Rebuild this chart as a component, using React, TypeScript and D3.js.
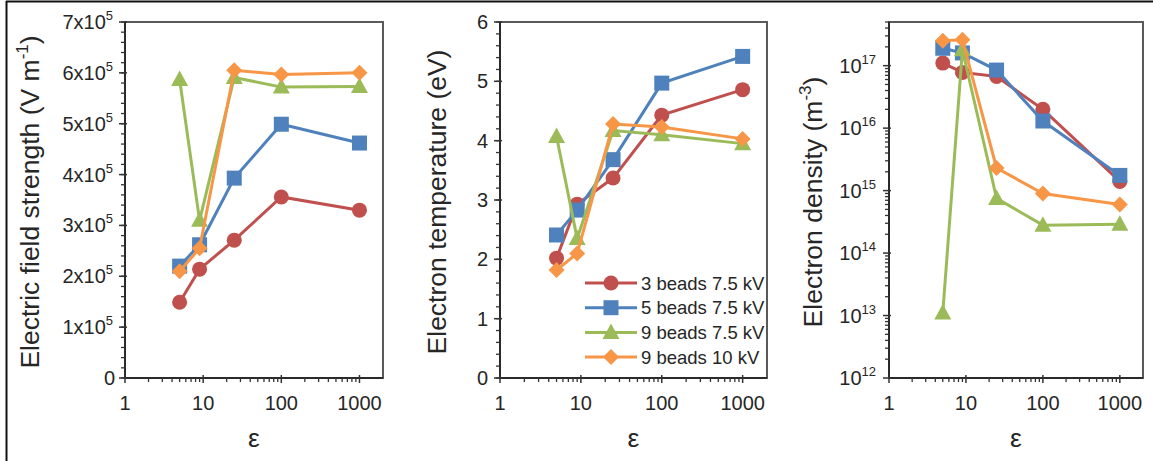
import React from "react";
import * as d3 from "d3";

const eps = [5, 9, 25, 100, 1000];
const seriesNames = ["3 beads 7.5 kV", "5 beads 7.5 kV", "9 beads 7.5 kV", "9 beads 10 kV"];
const seriesColors = ["#C0504D", "#4F81BD", "#9BBB59", "#F79646"];
const seriesShapes = ["circle", "square", "triangle", "diamond"];

const fieldRed = [1.49e5, 2.14e5, 2.71e5, 3.56e5, 3.30e5];
const fieldBlue = [2.2e5, 2.62e5, 3.93e5, 4.99e5, 4.62e5];
const fieldGreen = [5.87e5, 3.1e5, 5.91e5, 5.72e5, 5.73e5];
const fieldOrange = [2.1e5, 2.55e5, 6.05e5, 5.97e5, 6.0e5];

const tempRed = [2.02, 2.93, 3.37, 4.43, 4.86];
const tempBlue = [2.41, 2.83, 3.68, 4.97, 5.42];
const tempGreen = [4.07, 2.35, 4.17, 4.1, 3.95];
const tempOrange = [1.82, 2.1, 4.28, 4.23, 4.03];

const densRed = [1.1e17, 7.8e16, 6.7e16, 2.0e16, 1.4e15];
const densBlue = [1.9e17, 1.6e17, 8.5e16, 1.3e16, 1.75e15];
const densGreen = [1.1e13, 1.8e17, 7.5e14, 2.8e14, 2.9e14];
const densOrange = [2.5e17, 2.6e17, 2.3e15, 9.0e14, 6.0e14];

const xTicks = [1, 10, 100, 1000];
const fieldTicks = [0, 1, 2, 3, 4, 5, 6, 7];
const tempTicks = [0, 1, 2, 3, 4, 5, 6];
const densExps = [12, 13, 14, 15, 16, 17];

const FONT = "Liberation Sans, Arial, sans-serif";
const TOP = 22;
const BOTTOM = 378;
const TICKFS = 20;
const TITLEFS = 26.5;

function Marker({ shape, x, y, color }: { shape: string; x: number; y: number; color: string }) {
  if (shape === "circle") return <circle cx={x} cy={y} r={7.5} fill={color} />;
  if (shape === "square") return <rect x={x - 7.5} y={y - 7.5} width={15} height={15} fill={color} />;
  if (shape === "triangle")
    return <path d={`M${x},${y - 9} L${x + 8.5},${y + 6.5} L${x - 8.5},${y + 6.5} Z`} fill={color} />;
  return <path d={`M${x},${y - 8} L${x + 8},${y} L${x},${y + 8} L${x - 8},${y} Z`} fill={color} />;
}

type PanelProps = {
  left: number;
  right: number;
  yScale: any;
  series: number[][];
  yTickEls: React.ReactNode;
  title: React.ReactNode;
  titleX: number;
  legend?: boolean;
};

function Panel({ left, right, yScale, series, yTickEls, title, titleX, legend }: PanelProps) {
  const x = d3.scaleLog().domain([1, 2000]).range([left, right]);
  const minor: number[] = [];
  for (let dec = 1; dec <= 1000; dec *= 10) {
    for (let k = 2; k <= 9; k++) {
      const v = dec * k;
      if (v < 2000) minor.push(v);
    }
  }
  const line = d3
    .line<[number, number]>()
    .x((d) => x(d[0]))
    .y((d) => yScale(d[1]));
  return (
    <g>
      <rect x={left} y={TOP} width={right - left} height={BOTTOM - TOP} fill="none" stroke="#5a5a5a" strokeWidth={2} />
      <line x1={left} x2={left} y1={TOP} y2={BOTTOM} stroke="#2a2a2a" strokeWidth={2} />
      <line x1={left} x2={right} y1={BOTTOM} y2={BOTTOM} stroke="#2a2a2a" strokeWidth={2} />
      {minor.map((v, i) => (
        <line key={"m" + i} x1={x(v)} x2={x(v)} y1={BOTTOM} y2={BOTTOM + 4} stroke="#333" strokeWidth={1.3} />
      ))}
      {xTicks.map((v) => (
        <g key={"x" + v}>
          <line x1={x(v)} x2={x(v)} y1={BOTTOM - 3} y2={BOTTOM + 5} stroke="#333" strokeWidth={1.5} />
          <text x={x(v)} y={410} textAnchor="middle" fontSize={TICKFS} fontFamily={FONT} fill="#262626">
            {v}
          </text>
        </g>
      ))}
      {yTickEls}
      <text x={(left + right) / 2} y={447} textAnchor="middle" fontSize={TITLEFS} fontFamily={FONT} fill="#262626">
        ε
      </text>
      <text
        transform={`translate(${titleX},${(TOP + BOTTOM) / 2 + 2}) rotate(-90)`}
        textAnchor="middle"
        fontSize={TITLEFS}
        fontFamily={FONT}
        fill="#262626"
      >
        {title}
      </text>
      {series.map((vals, si) => {
        const pts: [number, number][] = eps.map((e, i) => [e, vals[i]]);
        return (
          <g key={"s" + si}>
            <path d={line(pts) || ""} fill="none" stroke={seriesColors[si]} strokeWidth={3} />
            {pts.map((p, i) => (
              <Marker key={i} shape={seriesShapes[si]} x={x(p[0])} y={yScale(p[1])} color={seriesColors[si]} />
            ))}
          </g>
        );
      })}
      {legend &&
        seriesNames.map((name, i) => {
          const yy = 283 + i * 24.7;
          return (
            <g key={"l" + i}>
              <line x1={585} x2={637} y1={yy} y2={yy} stroke={seriesColors[i]} strokeWidth={3} />
              <Marker shape={seriesShapes[i]} x={611} y={yy} color={seriesColors[i]} />
              <text x={641} y={yy + 6.5} fontSize={18.5} fontFamily={FONT} fill="#262626">
                {name}
              </text>
            </g>
          );
        })}
    </g>
  );
}

export default function App() {
  // Panel 1
  const y1 = d3.scaleLinear().domain([0, 7e5]).range([BOTTOM, TOP]);
  const p1Left = 125;
  const y1Ticks = (
    <g>
      {d3.range(0, 7e5 + 1, 2e4).map((v, i) => (
        <line key={"mn" + i} x1={p1Left - 4} x2={p1Left} y1={y1(v)} y2={y1(v)} stroke="#333" strokeWidth={1.3} />
      ))}
      {fieldTicks.map((t) => (
        <g key={t}>
          <line x1={p1Left - 6} x2={p1Left + 2} y1={y1(t * 1e5)} y2={y1(t * 1e5)} stroke="#333" strokeWidth={1.5} />
          {t === 0 ? (
            <text x={p1Left - 10} y={y1(0) + 7} textAnchor="end" fontSize={TICKFS} fontFamily={FONT} fill="#262626">
              0
            </text>
          ) : (
            <text x={p1Left - 12} y={y1(t * 1e5) + 7} textAnchor="end" fontSize={TICKFS} fontFamily={FONT} fill="#262626">
              {t}x10
              <tspan fontSize={13} dy={-9}>
                5
              </tspan>
            </text>
          )}
        </g>
      ))}
    </g>
  );

  // Panel 2
  const y2 = d3.scaleLinear().domain([0, 6]).range([BOTTOM, TOP]);
  const p2Left = 500;
  const y2Ticks = (
    <g>
      {d3.range(0, 6.001, 0.2).map((v, i) => (
        <line key={"mn" + i} x1={p2Left - 4} x2={p2Left} y1={y2(v)} y2={y2(v)} stroke="#333" strokeWidth={1.3} />
      ))}
      {tempTicks.map((t) => (
        <g key={t}>
          <line x1={p2Left - 6} x2={p2Left + 2} y1={y2(t)} y2={y2(t)} stroke="#333" strokeWidth={1.5} />
          <text x={p2Left - 12} y={y2(t) + 7} textAnchor="end" fontSize={TICKFS} fontFamily={FONT} fill="#262626">
            {t}
          </text>
        </g>
      ))}
    </g>
  );

  // Panel 3
  const y3 = d3.scaleLog().domain([1e12, 5e17]).range([BOTTOM, TOP]);
  const p3Left = 889;
  const y3Minor: number[] = [];
  for (let e = 12; e <= 17; e++) {
    for (let k = 2; k <= 9; k++) {
      const v = k * Math.pow(10, e);
      if (v <= 5e17) y3Minor.push(v);
    }
  }
  const y3Ticks = (
    <g>
      {y3Minor.map((v, i) => (
        <line key={"mn" + i} x1={p3Left - 4} x2={p3Left} y1={y3(v)} y2={y3(v)} stroke="#333" strokeWidth={1.3} />
      ))}
      {densExps.map((e) => (
        <g key={e}>
          <line x1={p3Left - 6} x2={p3Left + 2} y1={y3(Math.pow(10, e))} y2={y3(Math.pow(10, e))} stroke="#333" strokeWidth={1.5} />
          <text x={p3Left - 13} y={y3(Math.pow(10, e)) + 7} textAnchor="end" fontSize={TICKFS} fontFamily={FONT} fill="#262626">
            10
            <tspan fontSize={13} dy={-9}>
              {e}
            </tspan>
          </text>
        </g>
      ))}
    </g>
  );

  return (
    <svg width={1153} height={461} style={{ position: "absolute", left: 0, top: 0, background: "#fff" }}>
      <rect x={0} y={0} width={1153} height={461} fill="#fff" />
      <line x1={6} x2={1153} y1={1.5} y2={1.5} stroke="#111" strokeWidth={2} />
      <line x1={6.5} x2={6.5} y1={1} y2={461} stroke="#111" strokeWidth={2} />
      <Panel
        left={p1Left}
        right={383}
        yScale={y1}
        series={[fieldRed, fieldBlue, fieldGreen, fieldOrange]}
        yTickEls={y1Ticks}
        titleX={39}
        title={
          <>
            Electric field strength (V m
            <tspan fontSize={17} dy={-11}>
              -1
            </tspan>
            <tspan dy={11}>)</tspan>
          </>
        }
      />
      <Panel
        left={p2Left}
        right={767}
        yScale={y2}
        series={[tempRed, tempBlue, tempGreen, tempOrange]}
        yTickEls={y2Ticks}
        titleX={446}
        legend
        title={<>Electron temperature (eV)</>}
      />
      <Panel
        left={p3Left}
        right={1143}
        yScale={y3}
        series={[densRed, densBlue, densGreen, densOrange]}
        yTickEls={y3Ticks}
        titleX={822}
        title={
          <>
            Electron density (m
            <tspan fontSize={17} dy={-11}>
              -3
            </tspan>
            <tspan dy={11}>)</tspan>
          </>
        }
      />
    </svg>
  );
}
